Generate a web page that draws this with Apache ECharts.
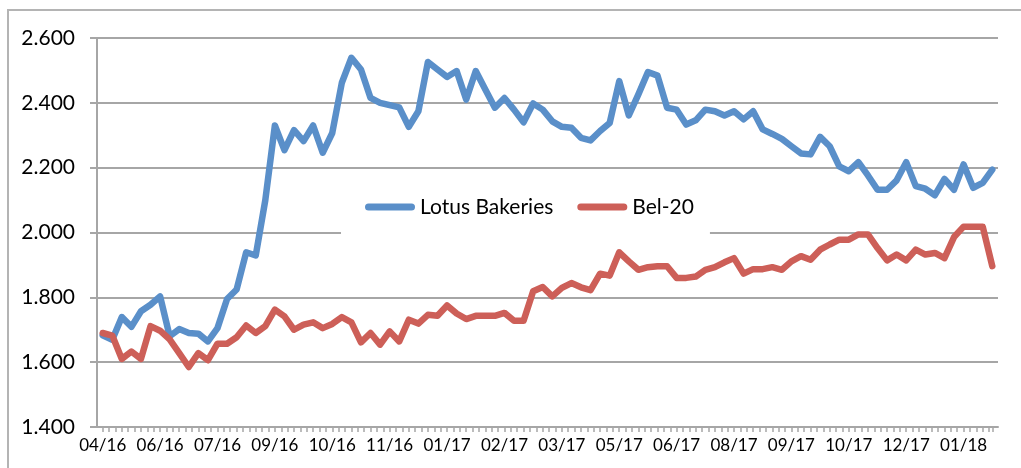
<!DOCTYPE html>
<html>
<head>
<meta charset="utf-8">
<script src="https://cdn.jsdelivr.net/npm/echarts@6/dist/echarts.min.js"></script>
<style>
  html, body { margin: 0; padding: 0; background: #fff; }
  #chart { width: 1021px; height: 468px; }
</style>
</head>
<body>
<div id="chart"></div>
<script>
// weekly points, Apr 2016 - Feb 2018
const tickLabels = ['04/16', '06/16', '07/16', '09/16', '10/16', '11/16', '01/17', '02/17',
  '03/17', '05/17', '06/17', '08/17', '09/17', '10/17', '12/17', '01/18'];
const labelStep = 6;

const lotus = [
  1683, 1669, 1739, 1709, 1757, 1777, 1803, 1680, 1702, 1690,
  1688, 1664, 1705, 1795, 1824, 1939, 1929, 2100, 2330, 2254,
  2316, 2282, 2330, 2246, 2307, 2462, 2539, 2503, 2415, 2400,
  2393, 2386, 2326, 2374, 2526, 2503, 2480, 2498, 2410, 2498,
  2441, 2385, 2415, 2379, 2340, 2398, 2379, 2343, 2326, 2323,
  2292, 2284, 2313, 2338, 2467, 2361, 2426, 2495, 2484, 2385,
  2379, 2333, 2346, 2379, 2374, 2361, 2374, 2349, 2374, 2318,
  2304, 2289, 2266, 2244, 2241, 2295, 2266, 2204, 2189, 2217,
  2176, 2132, 2132, 2161, 2217, 2143, 2135, 2115, 2165, 2132,
  2210, 2138, 2153, 2194
];

const bel20 = [
  1690, 1682, 1610, 1633, 1610, 1711, 1697, 1670, 1628, 1585,
  1628, 1606, 1657, 1657, 1677, 1713, 1690, 1711, 1762, 1741,
  1700, 1716, 1723, 1705, 1718, 1739, 1723, 1661, 1690, 1654,
  1695, 1664, 1731, 1719, 1746, 1743, 1775, 1750, 1733, 1743,
  1743, 1743, 1752, 1728, 1728, 1819, 1832, 1803, 1829, 1844,
  1831, 1822, 1873, 1867, 1939, 1911, 1885, 1893, 1896, 1896,
  1860, 1860, 1864, 1885, 1893, 1908, 1921, 1873, 1887, 1887,
  1893, 1885, 1911, 1927, 1916, 1947, 1963, 1978, 1978, 1994,
  1994, 1952, 1914, 1932, 1914, 1947, 1932, 1937, 1921, 1986,
  2018, 2018, 2018, 1896
];

const seriesNames = ['Lotus Bakeries', 'Bel-20'];
const colors = ['#5a8fc9', '#cd5f58'];

const gridColor = '#a6a6a6';
const font = 'Lato, "DejaVu Sans", sans-serif';
const capsule = 'path://M3.5,0 H46.5 A3.5,3.5 0 0 1 46.5,7 H3.5 A3.5,3.5 0 0 1 3.5,0 Z';

const chart = echarts.init(document.getElementById('chart'));

chart.setOption({
  animation: false,
  backgroundColor: '#fff',
  graphic: [{
    type: 'rect',
    shape: { x: 8, y: 10, width: 1040, height: 500 },
    style: { fill: 'none', stroke: '#b4b4b4', lineWidth: 2 },
    z: -1
  }],
  grid: [
    // frame grid: gridlines, axis lines
    { left: 97, right: 23, top: 38, bottom: 41 },
    // data grid: points inset from the axis ends
    { left: 102.7, right: 28.7, top: 38, bottom: 41 }
  ],
  legend: {
    data: seriesNames,
    left: 341,
    top: 184,
    backgroundColor: '#fff',
    padding: [12, 16, 16, 24],
    itemWidth: 50,
    itemHeight: 7,
    itemGap: 24,
    icon: capsule,
    textStyle: { fontFamily: font, fontSize: 21, color: '#000', lineHeight: 22 }
  },
  xAxis: [
    {
      type: 'value',
      gridIndex: 0,
      min: 0,
      max: 1,
      axisLine: { show: true, onZero: false, lineStyle: { color: gridColor, width: 2 } },
      axisTick: { show: false },
      axisLabel: { show: false },
      splitLine: { show: false }
    },
    {
      type: 'value',
      gridIndex: 1,
      min: 0,
      max: lotus.length - 1,
      interval: labelStep,
      axisLine: { show: false, onZero: false },
      // excel style comb of small ticks under the axis
      axisTick: { show: true, length: 5, lineStyle: { color: gridColor, width: 1.5 } },
      minorTick: { show: true, splitNumber: 9, length: 5, lineStyle: { color: gridColor, width: 1.5 } },
      splitLine: { show: false },
      axisLabel: {
        showMaxLabel: false,
        margin: 10,
        fontFamily: font,
        fontSize: 17,
        color: '#000',
        formatter: function (v) {
          return v % labelStep === 0 ? (tickLabels[v / labelStep] || '') : '';
        }
      }
    }
  ],
  yAxis: [
    {
      type: 'value',
      gridIndex: 0,
      min: 1400,
      max: 2600,
      interval: 200,
      axisLine: { show: true, lineStyle: { color: gridColor, width: 2 } },
      axisTick: { show: true, length: 7, lineStyle: { color: gridColor, width: 2 } },
      splitLine: { lineStyle: { color: gridColor, width: 2 } },
      axisLabel: {
        margin: 22,
        fontFamily: font,
        fontSize: 21,
        color: '#000',
        formatter: function (v) { return (v / 1000).toFixed(3); }
      }
    },
    {
      type: 'value',
      gridIndex: 1,
      min: 1400,
      max: 2600,
      show: false
    }
  ],
  series: [lotus, bel20].map(function (vals, k) {
    return {
      name: seriesNames[k],
      type: 'line',
      xAxisIndex: 1,
      yAxisIndex: 1,
      data: vals.map(function (v, i) { return [i, v]; }),
      symbol: 'none',
      color: colors[k],
      lineStyle: { width: 6.5, color: colors[k], cap: 'round', join: 'round' }
    };
  })
});
</script>
</body>
</html>
